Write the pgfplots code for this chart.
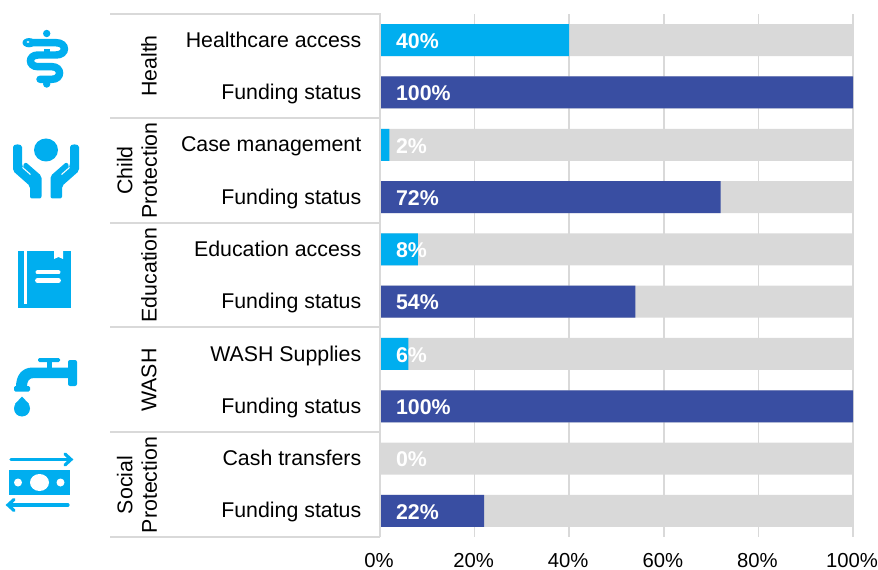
\documentclass[border=0pt]{standalone}
\usepackage{pgfplots}
\usepackage{pgfplotstable}
\usepackage{fontspec}
\setmainfont{Liberation Sans}
\pgfplotsset{compat=1.18}
\definecolor{cy}{HTML}{00AEEF}
\definecolor{nv}{HTML}{394EA2}
\definecolor{gr}{HTML}{D9D9D9}
\pgfplotstableread{
pos v
0 40
2 2
4 8
6 6
8 0
}\access
\pgfplotstableread{
pos v
1 100
3 72
5 54
7 100
9 22
}\funding
\pgfplotstableread{
pos v
0 100
1 100
2 100
3 100
4 100
5 100
6 100
7 100
8 100
9 100
}\backdrop
\begin{document}
\begin{tikzpicture}[x=0.75pt,y=-0.75pt,line cap=round]
\path[use as bounding box] (0,0) rectangle (878,570);
\begin{axis}[
  at={(285pt,-402.75pt)},anchor=south west,
  scale only axis,width=354.75pt,height=392.25pt,
  xmin=0,xmax=100,ymin=-0.5,ymax=9.5,y dir=reverse,
  axis line style={draw=none},
  major tick length=0pt,
  xmajorgrids,
  grid style={draw=gr,line width=1.1pt},
  xtick={0,20,...,100},
  xticklabel={\pgfmathprintnumber{\tick}\%},
  ytick={0,...,9},
  yticklabels={Healthcare access,Funding status,Case management,Funding status,Education access,Funding status,WASH Supplies,Funding status,Cash transfers,Funding status},
  /pgf/number format/assume math mode=true,
  yticklabel style={font=\fontsize{16}{19}\selectfont,text=black,xshift=-10.5pt,text height=11.5pt,text depth=3.5pt,yshift=-1.3pt},
  xticklabel style={font=\fontsize{15.2}{18}\selectfont,text=black,inner sep=0pt,yshift=-12.4pt,xshift=-0.75pt},
  clip=false,
]
\addplot[xbar,bar width=24pt,bar shift=0pt,fill=gr,draw=none] table[x=v,y=pos]{\backdrop};
\addplot[xbar,bar width=24pt,bar shift=0pt,fill=cy,draw=none] table[x=v,y=pos]{\access};
\addplot[xbar,bar width=24pt,bar shift=0pt,fill=nv,draw=none] table[x=v,y=pos]{\funding};
\pgfplotsset{lab/.style={draw=none,mark=none,point meta=\thisrow{v},
  nodes near coords={\pgfmathprintnumber{\pgfplotspointmeta}\%},
  nodes near coords style={anchor=west,inner sep=0pt,text=white,yshift=-0.75pt,font=\fontsize{16}{19}\bfseries\selectfont}}}
\addplot[lab] table[x expr=3.35,y=pos]{\access};
\addplot[lab] table[x expr=3.35,y=pos]{\funding};
\end{axis}
% separators
\draw[gr,line width=1.5pt,line cap=butt] (380,13.5) -- (380,537);
\foreach \yy in {14,118,223,327,432,537}{\draw[gr,line width=1.5pt,line cap=butt] (110,\yy) -- (380,\yy);}
% group labels
\tikzset{grp/.style={rotate=90,anchor=center,align=center,font=\fontsize{16}{18.5}\selectfont,inner sep=0pt}}
\node[grp] at (149,66) {Health};
\node[grp] at (137,170.5) {Child\\Protection};
\node[grp] at (149,275) {Education};
\node[grp] at (149,380) {WASH};
\node[grp] at (137,485) {Social\\Protection};
% icons
\begin{scope}[cy]
% caduceus
\fill (46.7,33.5) circle (3.7);
\fill (44,49) rectangle (49.5,55);
\fill (46.7,84) circle (3.7);
\fill (44,76) rectangle (49.5,84);
\draw[line width=5.6pt] (27,42.7) -- (56,42.7) .. controls (67.2,42.7) and (67.2,55) .. (56,55) -- (38,55) .. controls (28,55) and (28,66.7) .. (38,66.7) -- (52,66.7) .. controls (62,66.7) and (62,79.3) .. (52,79.3) -- (40,79.3);
\fill (29,42.7) ellipse (6.5 and 4.6);
\fill[white] (28,42) ellipse (1.4 and 1);
% hands
\fill (46,150) ellipse (12 and 11.5);
\foreach \sg in {1,-1}{
\begin{scope}[shift={(46,0)},xscale=\sg]
\fill[rounded corners=1.5pt] (-33,149) .. controls (-33,143.5) and (-24,143.5) .. (-24,149) -- (-24,165.5) -- (-23,167.5) -- (-23.5,166) -- (-20.5,162) -- (-4.5,176) -- (-4.5,198.5) -- (-16,198.5) -- (-16,186) -- (-33,171) -- cycle;
\draw[white,line width=0.8pt,line cap=butt] (-23.5,167.5) -- (-15.5,174.5);
\end{scope}}
% book
\fill (18,251) rectangle (71,308);
\fill[white] (24,251) rectangle (27,304);
\fill[white] (54,251) -- (63,251) -- (63,259) -- (58.5,257) -- (54,259) -- cycle;
\draw[white,line width=3pt] (37.5,272.5) -- (58.5,272.5);
\draw[white,line width=3.6pt] (37.5,280.5) -- (58.5,280.5);
% tap
\fill[rounded corners=1pt] (38,358) rectangle (60,362);
\fill (47,360) rectangle (52,370);
\fill[rounded corners=1.5pt] (68,360) rectangle (77,386);
\fill (70,367.5) -- (32,367.5) .. controls (22,368) and (16,375) .. (16,387) -- (27,387) .. controls (27,381) and (29,378) .. (34,378) -- (70,378) -- cycle;
\fill[rounded corners=1pt] (14,386) rectangle (30,391.5);
\fill (22,408.5) circle (8);
\fill (22,396.5) -- (29,404) -- (15,404) -- cycle;
% cash
\fill (9,470) rectangle (70,495);
\fill[white] (39.5,482.5) ellipse (9.5 and 8.5);
\fill[white] (18,482.5) circle (4);
\fill[white] (60.5,482.5) circle (4);
\draw[line width=2.4pt] (11,459.5) -- (70,459.5);
\draw[line width=2.4pt] (65,454) -- (71,459.5) -- (65,465);
\draw[line width=2.4pt] (68,505) -- (9,505);
\draw[line width=2.4pt] (14,499.5) -- (8,505) -- (14,510.5);
\end{scope}
\end{tikzpicture}
\end{document}
